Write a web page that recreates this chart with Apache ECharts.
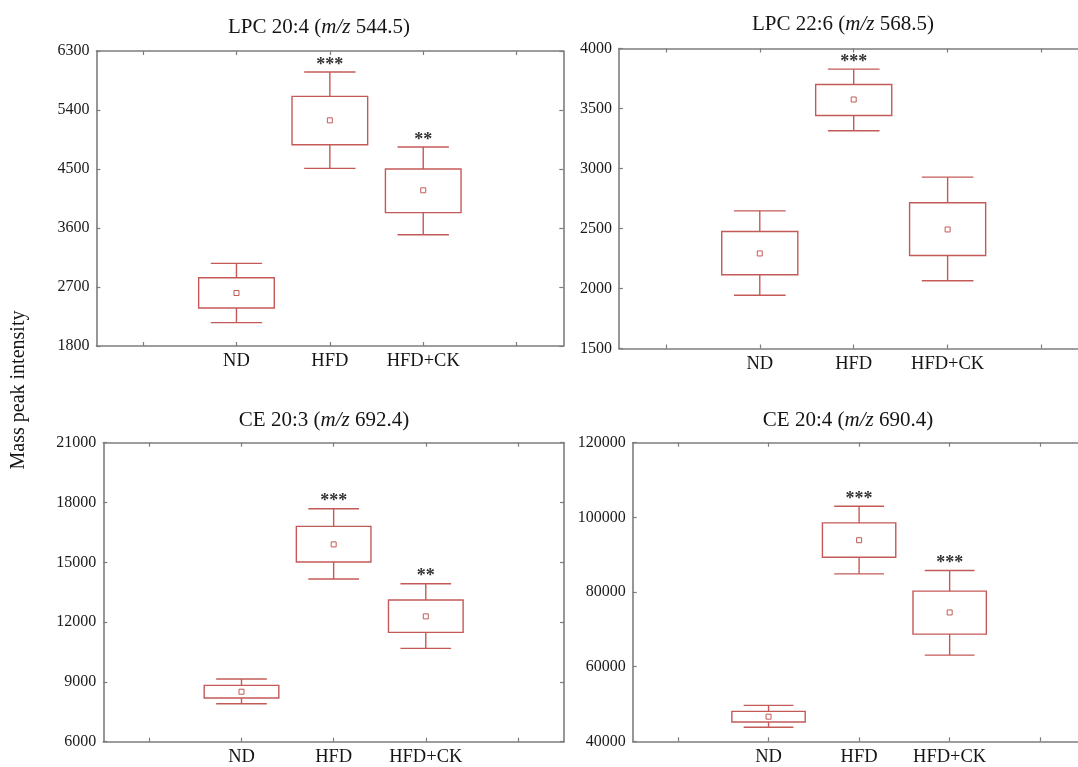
<!DOCTYPE html>
<html>
<head>
<meta charset="utf-8">
<script src="https://cdn.jsdelivr.net/npm/echarts@6/dist/echarts.min.js"></script>
<style>
  html, body { margin: 0; padding: 0; background: #ffffff; overflow: hidden; width: 1078px; height: 767px; }
  #chart { width: 1100px; height: 767px; }
</style>
</head>
<body>
<div id="chart"></div>
<script>
// ---- Data ----
const categories = ['ND', 'HFD', 'HFD+CK'];
// each row: [lower whisker, box bottom, mean, box top, upper whisker]
const lpc204Stats = [[2156, 2380, 2608, 2842, 3061], [4510, 4871, 5242, 5608, 5980], [3498, 3834, 4175, 4500, 4836]];
const lpc204Sig = ['', '***', '**'];
const lpc226Stats = [[1944, 2114, 2292, 2475, 2647], [3314, 3442, 3575, 3700, 3828], [2064, 2275, 2492, 2714, 2928]];
const lpc226Sig = ['', '***', ''];
const ce203Stats = [[7906, 8190, 8508, 8826, 9143], [14159, 15012, 15898, 16801, 17687], [10682, 11484, 12287, 13106, 13925]];
const ce203Sig = ['', '***', '**'];
const ce204Stats = [[43746, 45173, 46600, 48027, 49633], [84863, 89322, 93871, 98509, 102968], [63100, 68719, 74517, 80225, 85754]];
const ce204Sig = ['', '***', '***'];

const lpc204Ticks = { min: 1800, max: 6300, interval: 900 };
const lpc226Ticks = { min: 1500, max: 4000, interval: 500 };
const ce203Ticks = { min: 6000, max: 21000, interval: 3000 };
const ce204Ticks = { min: 40000, max: 120000, interval: 20000 };

const titles = [
  ['LPC 20:4 (', 'm/z', ' 544.5)'],
  ['LPC 22:6 (', 'm/z', ' 568.5)'],
  ['CE 20:3 (', 'm/z', ' 692.4)'],
  ['CE 20:4 (', 'm/z', ' 690.4)']
];
const yAxisTitle = 'Mass peak intensity';

// ---- Layout / style ----
const FONT = '"Liberation Serif", "Times New Roman", serif';
const BOX = '#c45a57';
const FRAME = '#7d7d7d';
const grids = [
  { left: 96.4, top: 51, width: 466.9, height: 295 },
  { left: 618.9, top: 48.5, width: 469.6, height: 300 },
  { left: 103.3, top: 442.7, width: 460.7, height: 299 },
  { left: 632.7, top: 442.7, width: 452.8, height: 298.6 }
];
const titlePos = [[319, 27], [843, 24], [324, 420], [848, 420]];
const panels = [
  { stats: lpc204Stats, sig: lpc204Sig, ticks: lpc204Ticks },
  { stats: lpc226Stats, sig: lpc226Sig, ticks: lpc226Ticks },
  { stats: ce203Stats, sig: ce203Sig, ticks: ce203Ticks },
  { stats: ce204Stats, sig: ce204Sig, ticks: ce204Ticks }
];
const axisCats = [''].concat(categories, ['']);

const xAxes = [], yAxes = [], series = [];
panels.forEach((p, i) => {
  const line = { show: true, lineStyle: { color: FRAME, width: 1.6 } };
  const tick = { show: true, inside: true, length: 4, lineStyle: { color: FRAME, width: 1.2 } };
  xAxes.push({
    gridIndex: i, type: 'category', data: axisCats, position: 'bottom', boundaryGap: true,
    axisLine: line, axisTick: Object.assign({ alignWithLabel: true, interval: 0 }, tick),
    axisLabel: { interval: 0, fontFamily: FONT, fontSize: 18.5, color: '#151515', margin: 6 },
    splitLine: { show: false }
  });
  xAxes.push({
    gridIndex: i, type: 'category', data: axisCats, position: 'top', boundaryGap: true,
    axisLine: line, axisTick: Object.assign({ alignWithLabel: true, interval: 0 }, tick),
    axisLabel: { show: false }, splitLine: { show: false }
  });
  yAxes.push({
    gridIndex: i, type: 'value', position: 'left',
    min: p.ticks.min, max: p.ticks.max, interval: p.ticks.interval,
    axisLine: line, axisTick: tick,
    axisLabel: { fontFamily: FONT, fontSize: 16, color: '#1a1a1a', margin: 7, formatter: v => String(v) },
    splitLine: { show: false }
  });
  yAxes.push({
    gridIndex: i, type: 'value', position: 'right',
    min: p.ticks.min, max: p.ticks.max, interval: p.ticks.interval,
    axisLine: line, axisTick: tick, axisLabel: { show: false }, splitLine: { show: false }
  });
  const data = p.stats.map((s, k) => [k + 1].concat(s));
  const sig = p.sig;
  series.push({
    type: 'custom', xAxisIndex: 2 * i, yAxisIndex: 2 * i, clip: false,
    encode: { x: 0, y: [1, 2, 3, 4, 5] },
    data: data,
    renderItem: function (params, api) {
      const xv = api.value(0);
      const pLo = api.coord([xv, api.value(1)]);
      const pQ1 = api.coord([xv, api.value(2)]);
      const pM = api.coord([xv, api.value(3)]);
      const pQ3 = api.coord([xv, api.value(4)]);
      const pHi = api.coord([xv, api.value(5)]);
      const band = api.size([1, 0])[0];
      const bw = band * 0.81, cw = band * 0.55;
      const cx = pM[0];
      const ls = { stroke: BOX, lineWidth: 1.4, fill: null };
      const children = [
        { type: 'rect', shape: { x: cx - bw / 2, y: pQ3[1], width: bw, height: pQ1[1] - pQ3[1] }, style: ls },
        { type: 'line', shape: { x1: cx, y1: pQ3[1], x2: cx, y2: pHi[1] }, style: ls },
        { type: 'line', shape: { x1: cx, y1: pQ1[1], x2: cx, y2: pLo[1] }, style: ls },
        { type: 'line', shape: { x1: cx - cw / 2, y1: pHi[1], x2: cx + cw / 2, y2: pHi[1] }, style: ls },
        { type: 'line', shape: { x1: cx - cw / 2, y1: pLo[1], x2: cx + cw / 2, y2: pLo[1] }, style: ls },
        { type: 'rect', shape: { x: cx - 2.5, y: pM[1] - 2.5, width: 5, height: 5 }, style: { stroke: BOX, lineWidth: 1, fill: '#fff' } }
      ];
      const s = sig[params.dataIndex];
      if (s) {
        children.push({
          type: 'text',
          style: { text: s, x: cx, y: pHi[1] + 2, align: 'center', verticalAlign: 'bottom',
                   fontFamily: FONT, fontSize: 18, fontWeight: 'bold', fill: '#333' }
        });
      }
      return { type: 'group', children: children };
    }
  });
});

const graphics = titles.map((t, i) => ({
  type: 'text', x: titlePos[i][0], y: titlePos[i][1],
  style: {
    text: '{n|' + t[0] + '}{it|' + t[1] + '}{n|' + t[2] + '}',
    align: 'center', verticalAlign: 'middle',
    rich: {
      n: { fontFamily: FONT, fontSize: 21, fill: '#151515' },
      it: { fontFamily: FONT, fontSize: 21, fontStyle: 'italic', fill: '#151515' }
    }
  }
}));
graphics.push({
  type: 'text', x: 19, y: 390, rotation: Math.PI / 2,
  style: { text: yAxisTitle, align: 'center', verticalAlign: 'middle', fontFamily: FONT, fontSize: 20, fill: '#151515' }
});

const chart = echarts.init(document.getElementById('chart'), null, { renderer: 'canvas' });
chart.setOption({
  backgroundColor: '#ffffff',
  animation: false,
  grid: grids.map(g => Object.assign({ containLabel: false }, g)),
  xAxis: xAxes,
  yAxis: yAxes,
  series: series,
  graphic: graphics
});
</script>
</body>
</html>
